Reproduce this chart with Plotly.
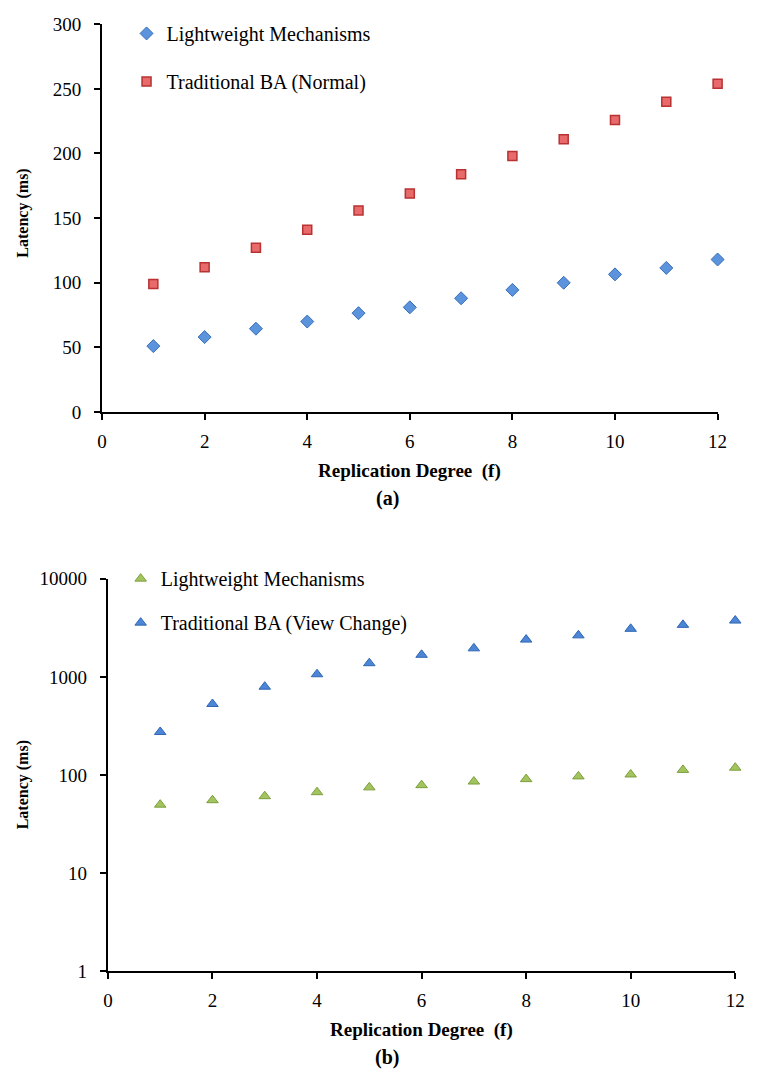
import plotly.graph_objects as go

# ---- data ----
f_values = [1, 2, 3, 4, 5, 6, 7, 8, 9, 10, 11, 12]

# (a) linear latency
light_a = [51, 58, 64.5, 70, 76.5, 81, 88, 94.5, 100, 106.5, 111.5, 118]
trad_normal = [99, 112, 127, 141, 156, 169, 184, 198, 211, 226, 240, 254]

# (b) log latency
light_b = [50, 55.5, 61, 67, 75, 79, 86, 91, 97, 101.5, 113, 119]
trad_view = [275, 530, 795, 1065, 1380, 1680, 1955, 2400, 2650, 3090, 3390, 3750]

x_ticks = [0, 2, 4, 6, 8, 10, 12]
ya_ticks = [0, 50, 100, 150, 200, 250, 300]
yb_ticks = [1, 10, 100, 1000, 10000]
yb_ticktext = ["1", "10", "100", "1000", "10000"]

W, H = 757, 1082
SERIF = "Liberation Serif, serif"

def px_x(p):
    return p / W

def px_y(p):
    return 1 - p / H

fig = go.Figure()

fig.add_trace(go.Scatter(
    x=f_values, y=light_a, mode="markers", name="Lightweight Mechanisms",
    marker=dict(symbol="diamond", size=10, color="#5b93dc",
                line=dict(color="#3a6fb8", width=1)),
    cliponaxis=False,
    xaxis="x", yaxis="y", legend="legend", legendgroup="a1"))
fig.add_trace(go.Scatter(
    x=f_values, y=trad_normal, mode="markers", name="Traditional BA (Normal)",
    marker=dict(symbol="square", size=9, color="#e86a6a",
                line=dict(color="#b83232", width=1.5)),
    cliponaxis=False,
    xaxis="x", yaxis="y", legend="legend", legendgroup="a2"))

fig.add_trace(go.Scatter(
    x=f_values, y=light_b, mode="markers", name="Lightweight Mechanisms",
    marker=dict(symbol="triangle-up", size=10, color="#a2c45e",
                line=dict(color="#7d9e3c", width=1)),
    cliponaxis=False,
    xaxis="x2", yaxis="y2", legend="legend2", legendgroup="b1"))
fig.add_trace(go.Scatter(
    x=f_values, y=trad_view, mode="markers", name="Traditional BA (View Change)",
    marker=dict(symbol="triangle-up", size=10, color="#4d86d6",
                line=dict(color="#2f66b3", width=1)),
    cliponaxis=False,
    xaxis="x2", yaxis="y2", legend="legend2", legendgroup="b2"))

axis_common = dict(
    showline=True, linecolor="black", linewidth=2,
    ticks="outside", ticklen=6, tickwidth=2, tickcolor="black",
    showgrid=False, zeroline=False, mirror=False,
    tickfont=dict(family=SERIF, size=19, color="black"),
)

fig.update_layout(
    width=W, height=H,
    margin=dict(l=0, r=0, t=0, b=0),
    paper_bgcolor="white", plot_bgcolor="white",
    font=dict(family=SERIF, color="black"),
    showlegend=True,
    xaxis=dict(domain=[px_x(99), px_x(727)], range=[0, 12], tickvals=x_ticks,
               anchor="y", ticklabelstandoff=5, **axis_common),
    yaxis=dict(domain=[px_y(410), px_y(14.5)], range=[0, 300], tickvals=ya_ticks,
               anchor="x", ticklabelstandoff=9, **axis_common),
    xaxis2=dict(domain=[px_x(105), px_x(745)], range=[0, 12], tickvals=x_ticks,
                anchor="y2", ticklabelstandoff=5, **axis_common),
    yaxis2=dict(domain=[px_y(980.5), px_y(580)], type="log", range=[0, 4],
                tickvals=yb_ticks, ticktext=yb_ticktext,
                anchor="x2", ticklabelstandoff=9, **axis_common),
    legend=dict(x=px_x(124), y=px_y(4), xanchor="left", yanchor="top",
                bgcolor="rgba(0,0,0,0)", font=dict(family=SERIF, size=20, color="black"),
                tracegroupgap=19, itemwidth=30),
    legend2=dict(x=px_x(118), y=px_y(560), xanchor="left", yanchor="top",
                 bgcolor="rgba(0,0,0,0)", font=dict(family=SERIF, size=20, color="black"),
                 tracegroupgap=15, itemwidth=30),
)

bold = dict(family=SERIF, color="black")
annotations = [
    dict(text="<b>Latency (ms)</b>", x=px_x(18), y=px_y(207), textangle=-90,
         font=dict(size=16, **bold)),
    dict(text="<b>Replication Degree  (f)</b>", x=px_x(413), y=px_y(470),
         font=dict(size=19, **bold)),
    dict(text="<b>(a)</b>", x=px_x(390), y=px_y(498), font=dict(size=20, **bold)),
    dict(text="<b>Latency (ms)</b>", x=px_x(18), y=px_y(790), textangle=-90,
         font=dict(size=16, **bold)),
    dict(text="<b>Replication Degree  (f)</b>", x=px_x(425), y=px_y(1040),
         font=dict(size=19, **bold)),
    dict(text="<b>(b)</b>", x=px_x(390), y=px_y(1068), font=dict(size=20, **bold)),
]
for a in annotations:
    a.update(xref="paper", yref="paper", showarrow=False,
             xanchor="center", yanchor="middle")
fig.update_layout(annotations=annotations)

fig.write_html(
    "out.html",
    config={"displayModeBar": False},
    post_script="document.body.style.margin='0';document.body.style.overflow='hidden';",
)
